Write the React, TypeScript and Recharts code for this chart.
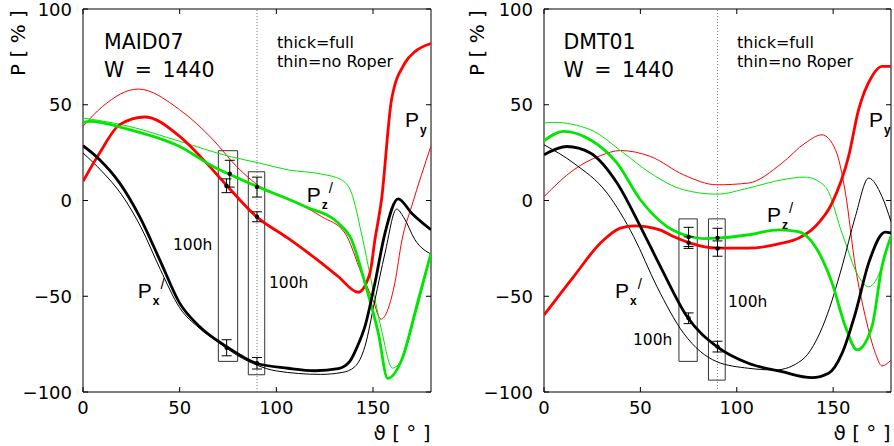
import React from 'react';
import { ComposedChart, Line, Scatter, ErrorBar, XAxis, YAxis, ReferenceArea, ReferenceLine } from 'recharts';

type Pt = [number, number];

// ---------- axis ticks ----------
const xTicks = [0, 50, 100, 150];
const yTicks = [-100, -50, 0, 50, 100];

// ---------- MAID07 (left) ----------
const maidPyFull: Pt[] = [[0, 10], [8.6, 24.8], [19, 39.6], [32, 43.6], [50, 33.5], [63.9, 19.5], [74.2, 8], [89.7, -8.4], [106, -19.7], [123.4, -32.7], [132, -39.7], [142.3, -47.9], [148.4, -38], [151, -20.5], [154.4, 0.4], [159.6, 52.7], [166.5, 71.8], [172, 78], [180, 82]];
const maidPyNoRoper: Pt[] = [[0, 38.7], [10, 49], [28.5, 58.2], [50, 47.4], [67.3, 31.7], [79.4, 17.8], [91.5, 7.3], [106, 1], [123.4, -8.4], [135.5, -17], [144, -38], [150, -52], [154.1, -62], [161.3, -43], [165, -20.5], [170, -3], [180, 28.5]];
const maidPzFull: Pt[] = [[0, 40.8], [3.5, 41.3], [24, 37], [50, 28.2], [67.3, 17.8], [74, 14.5], [89.7, 7.5], [114.8, -3.1], [132, -11.8], [138.9, -20.5], [145.8, -43], [152.7, -69], [157.6, -92.9], [164.8, -83.3], [173.4, -52], [180, -27.5]];
const maidPzNoRoper: Pt[] = [[0, 43.1], [24, 38.7], [50, 30.9], [75.9, 23], [91.5, 19.5], [106, 16], [123.4, 13.8], [133.7, 10.8], [138.9, 3.9], [144, -17], [149.3, -43], [154.4, -67.6], [160, -87.5], [164.8, -83.3], [171.7, -60.6], [180, -27.5]];
const maidPxFull: Pt[] = [[0, 28.6], [8.6, 21.3], [19, 9.1], [29.3, -8.4], [39.7, -31], [50, -53.6], [60.4, -65.9], [74.2, -76.3], [89.7, -85], [106, -87.6], [120, -88.9], [132, -87.8], [138, -84], [142, -76], [145.8, -65.9], [151, -43], [156.2, -17], [163, 0.9], [170, -6.6], [180, -15.3]];
const maidPxNoRoper: Pt[] = [[0, 24.8], [10, 15], [20, 3], [30, -14], [40, -36], [50, -56], [60, -66.5], [70, -74], [80, -81], [90, -86], [100, -89], [123, -90.8], [134, -89.8], [140.6, -86.8], [145.8, -76.3], [151, -52], [156.2, -27.5], [162.2, -4.5], [166, -9], [171.7, -20.5], [180, -28]];
const maidBoxes = [
  { x1: 70, x2: 80, y1: -84, y2: 26 },
  { x1: 85.5, x2: 94, y1: -91, y2: 15 },
];
const maidPoints = [
  { x: 74.2, y: 7.7, err: 3.6 },
  { x: 75.9, y: 14, err: 7 },
  { x: 74.3, y: -76.9, err: 4.2 },
  { x: 90, y: 7, err: 5.2 },
  { x: 90, y: -8.5, err: 2.6 },
  { x: 90, y: -85, err: 3 },
];

// ---------- DMT01 (right) ----------
const dmtPyFull: Pt[] = [[0, -59.8], [15.4, -39.7], [29.2, -22.3], [39.6, -14.4], [47, -13.2], [60, -15.3], [67.2, -18.8], [75.9, -22.3], [89.7, -24.9], [106, -24.9], [123.4, -22.3], [132, -19.7], [140.7, -13.6], [149.4, -1.4], [158, 23], [163.2, 47.4], [170.1, 64.8], [175.3, 70], [180, 70]];
const dmtPyNoRoper: Pt[] = [[0, 2], [15.4, 16], [29.2, 23.4], [39.6, 26.1], [55.2, 23], [72.4, 13.4], [89.7, 8.2], [106, 9.1], [123.4, 19.5], [135.5, 30], [144.2, 34.3], [151.2, 26.5], [156.4, 3.8], [161.5, -34.5], [166.7, -60.6], [172, -80], [175.3, -86.4], [180, -83.3]];
const dmtPzFull: Pt[] = [[0, 31.2], [10.2, 36.1], [24, 31.7], [37.9, 19.5], [50, 0.4], [63.8, -13.6], [75.9, -18.8], [83, -19.9], [89.7, -19.7], [106, -17.9], [122, -15.3], [132, -16.2], [140.7, -24], [149.4, -43], [156.4, -65.9], [162.4, -78], [170.1, -65.9], [175.3, -34.5], [180, -18.8]];
const dmtPzNoRoper: Pt[] = [[0, 40.5], [5, 40.8], [24, 37], [41.3, 24.8], [55.2, 14.3], [72.4, 5.6], [89.7, 3.3], [106, 6.5], [123.4, 10.8], [135.5, 12.2], [145.9, 7.3], [154.6, -17], [163.2, -39.7], [168.4, -45], [175.3, -34.5], [180, -17]];
const dmtPxFull: Pt[] = [[0, 23.9], [11.9, 28.2], [24, 24.8], [37.9, 9.1], [50, -13.6], [60.4, -34.5], [74.2, -60.6], [89.7, -76.3], [106, -85], [123.4, -89.4], [139, -92.5], [147.6, -90.2], [154.6, -79.8], [161.5, -58.9], [168.4, -32.7], [177, -16.5], [180, -17]];
const dmtPxNoRoper: Pt[] = [[0, 29.1], [15.4, 19.5], [32.7, 3.9], [46.5, -18.8], [58.6, -45], [72.4, -69.3], [89.7, -84.2], [106, -87.6], [120, -88.5], [133.8, -83.3], [145.9, -62.4], [154.6, -34.5], [161.5, -8.4], [168.4, 11.7], [175.3, 2.1], [180, -11]];
const dmtBoxes = [
  { x1: 70, x2: 79.5, y1: -84, y2: -9.6 },
  { x1: 85.3, x2: 94, y1: -93.8, y2: -9.6 },
];
const dmtPoints = [
  { x: 75, y: -19, err: 5 },
  { x: 75, y: -22, err: 3 },
  { x: 75, y: -61.5, err: 2.8 },
  { x: 90, y: -19.5, err: 5 },
  { x: 90, y: -25.1, err: 4 },
  { x: 90, y: -76.3, err: 2.8 },
];

// ---------- styling ----------
const RED = '#ff0000';
const GREEN = '#00e600';
const BLACK = '#000000';
const THICK = 2.8;
const THIN = 1;
const FONT = 'DejaVu Sans';

const H = 446;
const PLOT_TOP = 9;
const X_AXIS_H = 54;
const PLOT_BOTTOM = H - X_AXIS_H;

const toData = (pts: Pt[]) => pts.map(([x, y]) => ({ x, y }));
const fmt = (v: number) => (v < 0 ? '\u2212' + Math.abs(v) : String(v));

interface PanelProps {
  left: number;
  width: number;
  yAxisW: number;
  rightM: number;
  py: Pt[]; pyThin: Pt[]; pz: Pt[]; pzThin: Pt[]; px: Pt[]; pxThin: Pt[];
  boxes: { x1: number; x2: number; y1: number; y2: number }[];
  points: { x: number; y: number; err: number }[];
}

function Panel(p: PanelProps) {
  const plotW = p.width - p.yAxisW - p.rightM;
  const plotL = p.yAxisW;
  const YTick = (props: any) => {
    const y = props.y;
    return (
      <g>
        <line x1={plotL} x2={plotL + 5} y1={y} y2={y} stroke="#000" />
        <line x1={plotL + plotW} x2={plotL + plotW - 5} y1={y} y2={y} stroke="#000" />
        <text x={plotL - 11} y={y + 6.5} textAnchor="end" fontSize={18} fontFamily={FONT} fill="#000">
          {fmt(props.payload.value)}
        </text>
      </g>
    );
  };
  const XTick = (props: any) => {
    const x = props.x;
    return (
      <g>
        <line x1={x} x2={x} y1={PLOT_BOTTOM} y2={PLOT_BOTTOM - 5} stroke="#000" />
        <line x1={x} x2={x} y1={PLOT_TOP} y2={PLOT_TOP + 5} stroke="#000" />
        <text x={x} y={PLOT_BOTTOM + 21.5} textAnchor="middle" fontSize={18} fontFamily={FONT} fill="#000">
          {fmt(props.payload.value)}
        </text>
      </g>
    );
  };
  const dot = (s: any) => <circle cx={s.cx} cy={s.cy} r={2.2} fill="#000" />;
  const line = (pts: Pt[], color: string, w: number, key: string) => (
    <Line key={key} data={toData(pts)} dataKey="y" type="monotone" stroke={color} strokeWidth={w}
      dot={false} activeDot={false} isAnimationActive={false} />
  );
  return (
    <div style={{ position: 'absolute', left: p.left, top: 0 }}>
      <ComposedChart width={p.width} height={H} margin={{ top: PLOT_TOP, right: p.rightM, bottom: 0, left: 0 }}>
        <XAxis type="number" dataKey="x" domain={[0, 180]} ticks={xTicks} height={X_AXIS_H}
          axisLine={false} tickLine={false} tickSize={0} tickMargin={0} tick={XTick} allowDataOverflow />
        <YAxis type="number" domain={[-100, 100]} ticks={yTicks} width={p.yAxisW}
          axisLine={false} tickLine={false} tickSize={0} tickMargin={0} tick={YTick} allowDataOverflow />
        <ReferenceLine x={90} stroke="#777" strokeDasharray="1 2" strokeWidth={1} />
        {line(p.pyThin, RED, THIN, 'pyt')}
        {line(p.pzThin, GREEN, THIN, 'pzt')}
        {line(p.pxThin, BLACK, THIN, 'pxt')}
        {line(p.py, RED, THICK, 'py')}
        {line(p.pz, GREEN, THICK, 'pz')}
        {line(p.px, BLACK, THICK, 'px')}
        {p.boxes.map((b, i) => (
          <ReferenceArea key={'b' + i} x1={b.x1} x2={b.x2} y1={b.y1} y2={b.y2}
            fill="none" fillOpacity={0} stroke="#333" strokeWidth={1} ifOverflow="visible" />
        ))}
        <Scatter data={p.points} dataKey="y" shape={dot} isAnimationActive={false}>
          <ErrorBar dataKey="err" direction="y" width={5} stroke="#000" strokeWidth={1} isAnimationActive={false} />
        </Scatter>
        <ReferenceArea x1={0} x2={180} y1={-100} y2={100} fill="none" fillOpacity={0}
          stroke="#000" strokeWidth={1} ifOverflow="visible" />
      </ComposedChart>
    </div>
  );
}

function PLabel({ x, y, sub, prime }: { x: number; y: number; sub: string; prime?: boolean }) {
  return (
    <text x={x} y={y} fontFamily="Liberation Sans" fontSize={21} fill="#000">
      P
      <tspan fontSize={12} fontWeight="bold" dx={1} dy={7}>{sub}</tspan>
      {prime ? <tspan fontSize={15} dx={1} dy={-16}>/</tspan> : null}
    </text>
  );
}

function Overlay() {
  const t = (x: number, y: number, s: string, size: number, extra: any = {}) => (
    <text x={x} y={y} fontFamily={FONT} fontSize={size} fill="#000" {...extra}>{s}</text>
  );
  return (
    <svg width={894} height={446} style={{ position: 'absolute', left: 0, top: 0, pointerEvents: 'none' }}>
      {/* left panel */}
      <text transform="translate(24.5,43) rotate(-90)" textAnchor="middle" fontFamily={FONT} fontSize={20}>P [ % ]</text>
      {t(430.5, 440, 'ϑ [ ° ]', 20, { textAnchor: 'end' })}
      {t(104, 48.5, 'MAID07', 20.5)}
      {t(104, 76.7, 'W = 1440', 20.5, { wordSpacing: 4 })}
      {t(277, 48, 'thick=full', 16)}
      {t(277, 66.5, 'thin=no Roper', 16)}
      {t(173, 250, '100h', 15.5)}
      {t(269, 288, '100h', 15.5)}
      <PLabel x={405} y={126.7} sub="y" />
      <PLabel x={306.7} y={201.7} sub="z" prime />
      <PLabel x={137.7} y={298} sub="x" prime />
      {/* right panel */}
      <text transform="translate(483.5,43) rotate(-90)" textAnchor="middle" fontFamily={FONT} fontSize={20}>P [ % ]</text>
      {t(890.5, 440, 'ϑ [ ° ]', 20, { textAnchor: 'end' })}
      {t(563.5, 48.5, 'DMT01', 20.5)}
      {t(563.5, 76.7, 'W = 1440', 20.5, { wordSpacing: 4 })}
      {t(737, 48, 'thick=full', 16)}
      {t(737, 66.5, 'thin=no Roper', 16)}
      {t(633, 345, '100h', 15.5)}
      {t(728, 307, '100h', 15.5)}
      <PLabel x={869} y={126.7} sub="y" />
      <PLabel x={767} y={221.5} sub="z" prime />
      <PLabel x={615} y={298} sub="x" prime />
    </svg>
  );
}

export default function App() {
  return (
    <div style={{ position: 'absolute', left: 0, top: 0, width: 894, height: 446, background: '#fff', overflow: 'hidden' }}>
      <Panel left={0} width={440} yAxisW={83} rightM={9}
        py={maidPyFull} pyThin={maidPyNoRoper} pz={maidPzFull} pzThin={maidPzNoRoper} px={maidPxFull} pxThin={maidPxNoRoper}
        boxes={maidBoxes} points={maidPoints} />
      <Panel left={460} width={434} yAxisW={84} rightM={3}
        py={dmtPyFull} pyThin={dmtPyNoRoper} pz={dmtPzFull} pzThin={dmtPzNoRoper} px={dmtPxFull} pxThin={dmtPxNoRoper}
        boxes={dmtBoxes} points={dmtPoints} />
      <Overlay />
    </div>
  );
}
